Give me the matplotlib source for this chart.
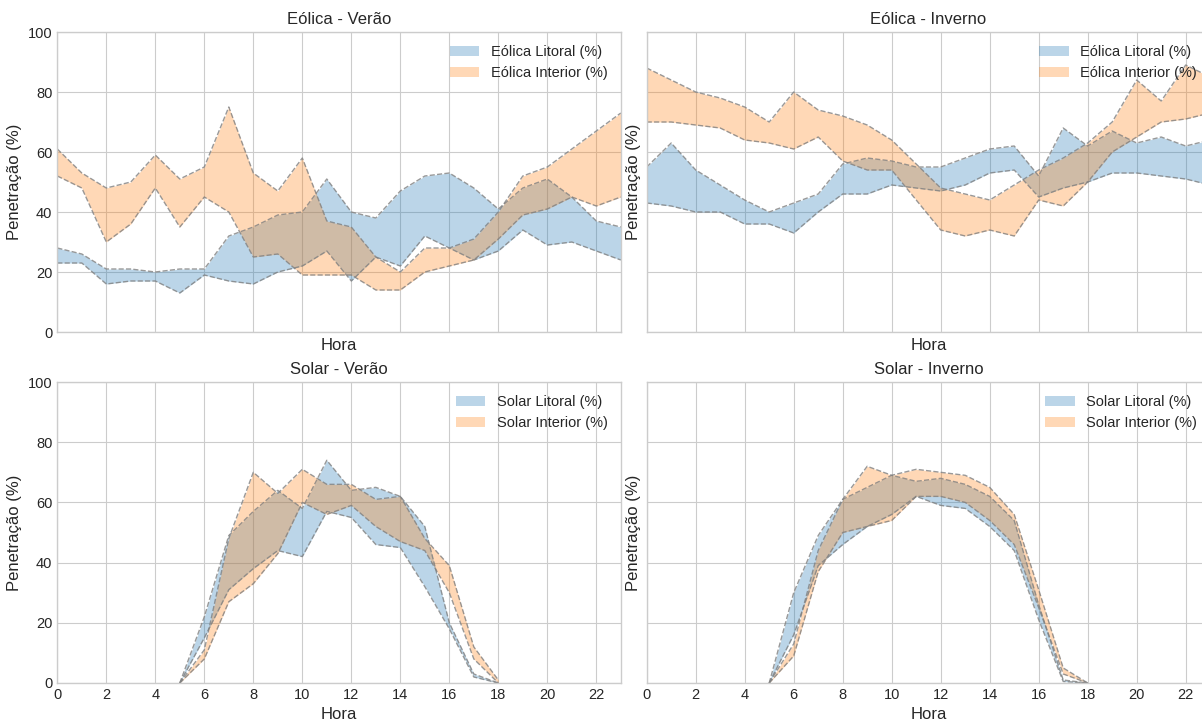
import numpy as np
import matplotlib
matplotlib.use("Agg")
import matplotlib.pyplot as plt

nan = np.nan
hours = list(range(24))

# Eólica - Verão
eol_lit_ver_low = [23, 23, 16, 17, 17, 13, 19, 17, 16, 20, 22, 27, 17, 25, 22, 32, 28, 24, 27, 34, 29, 30, 27, 24]
eol_lit_ver_high = [28, 26, 21, 21, 20, 21, 21, 32, 35, 39, 40, 51, 40, 38, 47, 52, 53, 48, 41, 48, 51, 45, 37, 35]
eol_int_ver_low = [52, 48, 30, 36, 48, 35, 45, 40, 25, 26, 19, 19, 19, 14, 14, 20, 22, 24, 31, 39, 41, 45, 42, 45]
eol_int_ver_high = [61, 53, 48, 50, 59, 51, 55, 75, 53, 47, 58, 37, 35, 25, 20, 28, 28, 31, 40, 52, 55, 61, 67, 73]

# Eólica - Inverno
eol_lit_inv_low = [43, 42, 40, 40, 36, 36, 33, 40, 46, 46, 49, 48, 47, 49, 53, 54, 45, 48, 50, 53, 53, 52, 51, 49]
eol_lit_inv_high = [55, 63, 54, 49, 44, 40, 43, 46, 56, 58, 57, 55, 55, 58, 61, 62, 52, 68, 62, 67, 63, 65, 62, 64]
eol_int_inv_low = [70, 70, 69, 68, 64, 63, 61, 65, 57, 54, 54, 44, 34, 32, 34, 32, 44, 42, 50, 60, 65, 70, 71, 73]
eol_int_inv_high = [88, 84, 80, 78, 75, 70, 80, 74, 72, 69, 64, 56, 48, 46, 44, 49, 54, 58, 63, 70, 84, 77, 89, 85]

# Solar - Verão
sol_lit_ver_low = [nan] * 5 + [0, 15, 31, 38, 44, 42, 57, 55, 46, 45, 32, 18, 2, 0] + [nan] * 5
sol_lit_ver_high = [nan] * 5 + [0, 22, 49, 57, 64, 58, 74, 64, 65, 62, 52, 20, 3, 0] + [nan] * 5
sol_int_ver_low = [nan] * 5 + [0, 8, 27, 33, 43, 60, 56, 59, 52, 47, 44, 30, 8, 0] + [nan] * 5
sol_int_ver_high = [nan] * 5 + [0, 11, 48, 70, 63, 71, 66, 66, 61, 62, 48, 39, 12, 1] + [nan] * 5

# Solar - Inverno
sol_lit_inv_low = [nan] * 5 + [0, 16, 39, 46, 52, 56, 62, 59, 58, 52, 44, 21, 0.5, 0] + [nan] * 5
sol_lit_inv_high = [nan] * 5 + [0, 30, 49, 61, 65, 69, 67, 68, 66, 62, 54, 26, 1, 0] + [nan] * 5
sol_int_inv_low = [nan] * 5 + [0, 9, 37, 50, 52, 54, 62, 62, 60, 54, 46, 25, 3, 0] + [nan] * 5
sol_int_inv_high = [nan] * 5 + [0, 13, 44, 61, 72, 69, 71, 70, 69, 65, 56, 31, 5, 0] + [nan] * 5

panels = [
    ("Eólica - Verão", "Eólica", eol_lit_ver_low, eol_lit_ver_high, eol_int_ver_low, eol_int_ver_high),
    ("Eólica - Inverno", "Eólica", eol_lit_inv_low, eol_lit_inv_high, eol_int_inv_low, eol_int_inv_high),
    ("Solar - Verão", "Solar", sol_lit_ver_low, sol_lit_ver_high, sol_int_ver_low, sol_int_ver_high),
    ("Solar - Inverno", "Solar", sol_lit_inv_low, sol_lit_inv_high, sol_int_inv_low, sol_int_inv_high),
]

plt.style.use("seaborn-v0_8-whitegrid")
plt.rcParams["font.family"] = ["Liberation Sans", "DejaVu Sans"]

W, H = 1202, 720
fig, axes = plt.subplots(2, 2, figsize=(W / 100, H / 100), dpi=100, sharex=True, sharey=True)

lefts = [57.3, 646.7]
width = 563.5
tops = [32, 382]
heights = [300, 301]

x = np.array(hours)
for i, (title, kind, ll, lh, il, ih) in enumerate(panels):
    r, c = divmod(i, 2)
    ax = axes[r][c]
    x0 = lefts[c] / W
    y0 = 1 - (tops[r] + heights[r]) / H
    ax.set_position([x0, y0, width / W, heights[r] / H])

    ax.fill_between(x, ll, lh, color="#1f77b4", alpha=0.3, linewidth=0, label=f"{kind} Litoral (%)")
    ax.fill_between(x, il, ih, color="#ff7f0e", alpha=0.3, linewidth=0, label=f"{kind} Interior (%)")
    for arr in (ll, lh, il, ih):
        ax.plot(x, arr, linestyle="--", color="gray", linewidth=1, alpha=0.8)

    ax.set_title(title, fontsize=12)
    ax.set_xlabel("Hora", fontsize=12)
    ax.set_ylabel("Penetração (%)", fontsize=12)
    ax.set_xlim(0, 23)
    ax.set_ylim(0, 100)
    ax.set_xticks(range(0, 24, 2))
    ax.set_yticks(range(0, 101, 20))
    ax.tick_params(labelsize=10.5)
    ax.legend(loc="upper right", fontsize=10.5, frameon=False)

fig.savefig("out.png", dpi=100)
